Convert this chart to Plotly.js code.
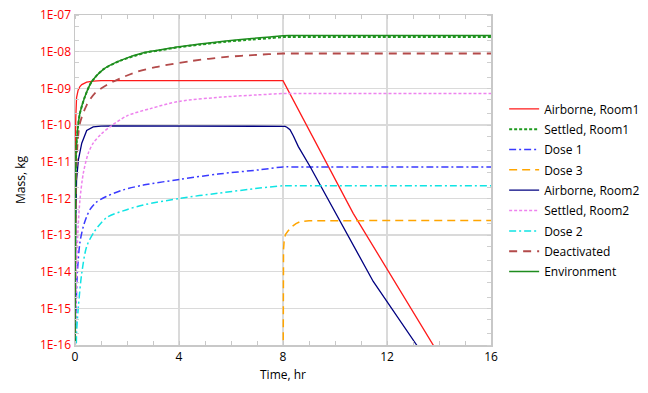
<!DOCTYPE html>
<html>
<head>
<meta charset="utf-8">
<script src="https://cdn.plot.ly/plotly-3.0.1.min.js"></script>
<style>html,body{margin:0;padding:0;background:#fff;}#chart{width:648px;height:393px;}</style>
</head>
<body>
<div id="chart"></div>
<script>
// Time (hr) and mass (kg)
var tAirR1 = [0, 0.01, 0.03, 0.06, 0.12, 0.19, 0.26, 0.45, 0.7, 1.0, 8.0, 10.7, 13.78, 14.2];
var mAirR1 = [4.5e-12, 3.2e-11, 1.6e-10, 5.6e-10, 8.9e-10, 1.12e-9, 1.26e-9, 1.48e-9, 1.58e-9, 1.62e-9, 1.62e-9, 3.9e-13, 1.0e-16, 3.2e-17];

var tSetR1 = [0, 0.01, 0.03, 0.06, 0.12, 0.19, 0.38, 0.64, 1.09, 1.73, 2.7, 3.3, 4.0, 4.8, 5.8, 6.8, 7.5, 8.0, 8.3, 16];
var mSetR1 = [1e-18, 1e-13, 6.3e-12, 3.2e-11, 1.0e-10, 2.1e-10, 5.9e-10, 1.51e-9, 3.3e-9, 5.6e-9, 9.3e-9, 1.1e-8, 1.32e-8, 1.55e-8, 1.86e-8, 2.14e-8, 2.34e-8, 2.5e-8, 2.5e-8, 2.5e-8];

var tDose1 = [0, 0.02, 0.05, 0.09, 0.19, 0.32, 0.45, 0.58, 0.8, 1.2, 1.86, 2.63, 4.04, 5.5, 7.1, 8.0, 8.3, 16];
var mDose1 = [1e-18, 1e-16, 1.6e-15, 9.3e-15, 6.3e-14, 1.7e-13, 3.2e-13, 5.0e-13, 7.6e-13, 1.12e-12, 1.7e-12, 2.3e-12, 3.3e-12, 4.6e-12, 6.0e-12, 7.2e-12, 7.2e-12, 7.2e-12];

var tDose3 = [8.0, 8.01, 8.02, 8.05, 8.1, 8.2, 8.35, 8.5, 8.65, 9.0, 16];
var mDose3 = [1e-18, 1e-15, 4e-14, 7.9e-14, 1.05e-13, 1.3e-13, 1.7e-13, 2.05e-13, 2.3e-13, 2.45e-13, 2.5e-13];

var tAirR2 = [0, 0.01, 0.03, 0.06, 0.13, 0.26, 0.45, 0.7, 1.0, 1.5, 8.0, 8.08, 8.15, 8.27, 8.4, 8.59, 9.04, 9.74, 10.19, 11.47, 13.14, 13.5];
var mAirR2 = [1e-18, 1e-15, 3.2e-13, 3.2e-12, 1.12e-11, 3.2e-11, 7.1e-11, 8.9e-11, 9.3e-11, 9.5e-11, 9.5e-11, 9.2e-11, 8.7e-11, 7.4e-11, 5.0e-11, 2.57e-11, 7.4e-12, 9.1e-13, 2.5e-13, 5.4e-15, 1.0e-16, 4.3e-17];

var tSetR2 = [0, 0.02, 0.06, 0.12, 0.19, 0.32, 0.51, 0.7, 1.0, 1.4, 2.0, 2.9, 4.0, 5.83, 7.0, 8.0, 8.3, 16];
var mSetR2 = [1e-18, 3.2e-16, 1e-14, 1.6e-13, 9.1e-13, 4.9e-12, 1.7e-11, 3.2e-11, 5.6e-11, 9.5e-11, 1.78e-10, 2.8e-10, 4.4e-10, 5.9e-10, 6.6e-10, 7.2e-10, 7.2e-10, 7.2e-10];

var tDose2 = [0, 0.04, 0.06, 0.13, 0.26, 0.45, 0.75, 1.22, 1.99, 2.63, 4.04, 5.5, 7.1, 8.0, 8.3, 16];
var mDose2 = [1e-18, 1e-17, 2.1e-16, 1.12e-15, 9.1e-15, 4.9e-14, 1.26e-13, 3.0e-13, 4.9e-13, 6.6e-13, 1.0e-12, 1.38e-12, 1.9e-12, 2.2e-12, 2.2e-12, 2.2e-12];

var tDeact = [0, 0.02, 0.05, 0.1, 0.19, 0.45, 0.77, 1.22, 1.73, 2.37, 3.1, 4.5, 5.83, 7.0, 8.0, 8.3, 16];
var mDeact = [1e-18, 1e-13, 5e-12, 3.2e-11, 1.12e-10, 3.5e-10, 7.4e-10, 1.23e-9, 1.86e-9, 2.8e-9, 3.8e-9, 5.6e-9, 7.2e-9, 8.2e-9, 8.9e-9, 8.9e-9, 8.9e-9];

var tEnv = [0, 0.01, 0.03, 0.06, 0.12, 0.19, 0.38, 0.64, 1.09, 1.73, 2.7, 3.3, 4.0, 4.8, 5.8, 6.8, 7.5, 8.0, 8.3, 16];
var mEnv = [1e-18, 1e-13, 6.3e-12, 3.2e-11, 1.0e-10, 2.1e-10, 5.9e-10, 1.51e-9, 3.3e-9, 5.7e-9, 9.6e-9, 1.13e-8, 1.36e-8, 1.62e-8, 1.95e-8, 2.28e-8, 2.52e-8, 2.72e-8, 2.75e-8, 2.75e-8];

var xTickVals = [0, 4, 8, 12, 16];
var yTickVals = [1e-16, 1e-15, 1e-14, 1e-13, 1e-12, 1e-11, 1e-10, 1e-9, 1e-8, 1e-7];
var yTickText = ["1E-16", "1E-15", "1E-14", "1E-13", "1E-12", "1E-11", "1E-10", "1E-09", "1E-08", "1E-07"];

var FONT = "'Open Sans', 'Noto Sans', sans-serif";

function tr(name, x, y, color, dash, width, shape) {
  return {
    type: 'scatter', mode: 'lines', name: name, x: x, y: y,
    legendgroup: name,
    line: {color: color, dash: dash, width: width, shape: shape, smoothing: 0.8}
  };
}

var data = [
  tr('Airborne, Room1', tAirR1, mAirR1, '#ff1a1a', 'solid', 1.3, 'linear'),
  tr('Settled, Room1', tSetR1, mSetR1, '#1f9a1f', '3px,2px', 2, 'spline'),
  tr('Dose 1', tDose1, mDose1, '#3a3aff', '7px,3px,2px,3px', 1.5, 'spline'),
  tr('Dose 3', tDose3, mDose3, '#ffa500', '8px,5px', 1.5, 'linear'),
  tr('Airborne, Room2', tAirR2, mAirR2, '#000080', 'solid', 1.3, 'linear'),
  tr('Settled, Room2', tSetR2, mSetR2, '#ee82ee', '3px,2px', 1.5, 'spline'),
  tr('Dose 2', tDose2, mDose2, '#10e4e4', '7px,3px,2px,3px', 1.5, 'spline'),
  tr('Deactivated', tDeact, mDeact, '#b34a4a', '8px,6px', 1.8, 'spline'),
  tr('Environment', tEnv, mEnv, '#1e8c1e', 'solid', 1.5, 'spline')
];

var layout = {
  width: 648, height: 393,
  margin: {l: 75, r: 157, t: 15, b: 48},
  paper_bgcolor: '#ffffff', plot_bgcolor: '#ffffff',
  font: {family: FONT, size: 12, color: '#000'},
  showlegend: true,
  legend: {
    xref: 'container', yref: 'container',
    x: 0.778, y: 0.76, xanchor: 'left', yanchor: 'top',
    font: {family: FONT, size: 12, color: '#000'},
    tracegroupgap: 1.35, bgcolor: 'rgba(0,0,0,0)'
  },
  xaxis: {
    range: [0, 16], tickvals: xTickVals, ticktext: xTickVals.map(String),
    showgrid: true, gridcolor: '#dadada', gridwidth: 1.5,
    showline: true, linecolor: '#c8c8c8', linewidth: 1.5, mirror: 'allticks',
    ticks: '', zeroline: false,
    tickfont: {family: FONT, size: 12, color: '#000'},
    minor: {dtick: 1, ticks: 'inside', ticklen: 4, tickcolor: '#c8c8c8', showgrid: false},
    title: {text: 'Time, hr', font: {family: FONT, size: 12, color: '#000'}, standoff: 6}
  },
  yaxis: {
    type: 'log', range: [-16, -7], tickvals: yTickVals, ticktext: yTickText,
    showgrid: true, gridcolor: '#dadada', gridwidth: 1.5,
    showline: true, linecolor: '#c8c8c8', linewidth: 1.5, mirror: 'allticks',
    ticks: '', zeroline: false,
    tickfont: {family: FONT, size: 12, color: '#ff0000'},
    minor: {dtick: 'D2', ticks: 'inside', ticklen: 4, tickcolor: '#cfcfcf', showgrid: false},
    title: {text: 'Mass, kg', font: {family: FONT, size: 12, color: '#000'}, standoff: 12}
  }
};

Plotly.newPlot('chart', data, layout, {displayModeBar: false, staticPlot: true});
</script>
</body>
</html>
